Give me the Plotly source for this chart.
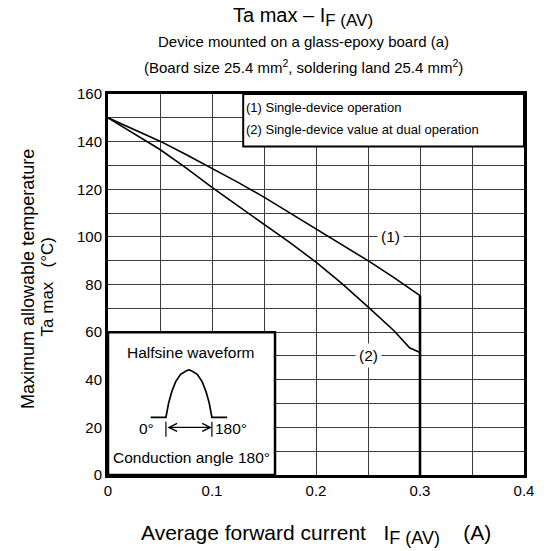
import plotly.graph_objects as go

# ---- data ----
x_single = [0, 0.025, 0.05, 0.075, 0.1, 0.125, 0.15, 0.175, 0.2, 0.225, 0.25, 0.275, 0.3]
ta_single = [150, 145.2, 140.2, 134.6, 128.9, 122.9, 116.7, 110.1, 103.3, 96.7, 90, 82.9, 75.3]
x_dual = [0, 0.025, 0.05, 0.075, 0.1, 0.125, 0.15, 0.175, 0.2, 0.225, 0.25, 0.275, 0.29, 0.3]
ta_dual = [150, 143.5, 136.7, 129, 120.8, 113.0, 105.4, 97.6, 89.4, 80.4, 70.6, 60.6, 53.4, 51.4]
x_limit = [0.3, 0.3]
ta_limit = [75.3, 0]

x_ticks = [0, 0.1, 0.2, 0.3, 0.4]
x_ticklabels = ["0", "0.1", "0.2", "0.3", "0.4"]
y_ticks = [0, 20, 40, 60, 80, 100, 120, 140, 160]

legend_lines = ["(1) Single-device operation", "(2) Single-device value at dual operation"]

# inset halfsine illustration
wave_x = [0.041, 0.0557, 0.0582, 0.0613, 0.0651, 0.0698, 0.0754, 0.0778,
          0.0802, 0.0858, 0.0905, 0.0943, 0.0974, 0.0999, 0.1146]
wave_y = [24.2, 24.2, 30.1, 35, 39.2, 42.3, 43.8, 44.1,
          43.8, 42.3, 39.2, 35, 30.1, 24.2, 24.2]
mark_x = [0.0557, 0.0557, None, 0.0999, 0.0999]
mark_y = [16.1, 22.4, None, 16.1, 22.4]

FONT = "Liberation Sans, Arial, sans-serif"

fig = go.Figure()
fig.add_trace(go.Scatter(x=x_single, y=ta_single, mode="lines",
                         line=dict(color="black", width=1.6), hoverinfo="skip"))
fig.add_trace(go.Scatter(x=x_dual, y=ta_dual, mode="lines",
                         line=dict(color="black", width=1.6), hoverinfo="skip"))
fig.add_trace(go.Scatter(x=x_limit, y=ta_limit, mode="lines",
                         line=dict(color="black", width=2.6), hoverinfo="skip"))
fig.add_trace(go.Scatter(x=wave_x, y=wave_y, mode="lines",
                         line=dict(color="black", width=1.7), hoverinfo="skip"))
fig.add_trace(go.Scatter(x=mark_x, y=mark_y, mode="lines",
                         line=dict(color="black", width=1.2), hoverinfo="skip"))

# legend box and inset box
fig.add_shape(type="rect", xref="x", yref="y", x0=0.13, x1=0.4, y0=138, y1=160,
              fillcolor="white", line=dict(color="black", width=2), layer="between")
fig.add_shape(type="rect", xref="x", yref="y", x0=0, x1=0.1606, y0=0, y1=60,
              fillcolor="white", line=dict(color="black", width=2.5), layer="between")

C = dict(xanchor="center", yanchor="middle", showarrow=False)
ann = []
ann.append(dict(x=0.1312, y=154.2, xref="x", yref="y", text=legend_lines[0],
                showarrow=False, xanchor="left", yanchor="middle", font=dict(size=13)))
ann.append(dict(x=0.1312, y=145.0, xref="x", yref="y", text=legend_lines[1],
                showarrow=False, xanchor="left", yanchor="middle", font=dict(size=13)))
ann.append(dict(x=0.0801, y=51.5, xref="x", yref="y", text="Halfsine waveform",
                font=dict(size=15.5), **C))
ann.append(dict(x=0.0801, y=7.3, xref="x", yref="y", text="Conduction angle 180°",
                font=dict(size=15.5), **C))
ann.append(dict(x=0.0463, y=19.7, xref="x", yref="y", text="0°", xanchor="right",
                yanchor="middle", showarrow=False, font=dict(size=15.5)))
ann.append(dict(x=0.1005, y=19.7, xref="x", yref="y", text="180°", xanchor="left",
                yanchor="middle", showarrow=False, font=dict(size=15.5)))
ann.append(dict(x=0.0999, y=20, ax=0.0557, ay=20, xref="x", yref="y", axref="x", ayref="y",
                text="", showarrow=True, arrowhead=5, arrowside="end+start",
                arrowsize=1.3, arrowwidth=1.2, arrowcolor="black", standoff=0, startstandoff=0))
ann.append(dict(x=0.272, y=100, xref="x", yref="y", text="(1)",
                bgcolor="white", borderpad=3, font=dict(size=15.5), **C))
ann.append(dict(x=0.25, y=50, xref="x", yref="y", text="(2)",
                bgcolor="white", borderpad=3, font=dict(size=15.5), **C))

# title block (paper coords from pixel positions)
def px(xp):
    return (xp - 108) / 426.0

def py(yp):
    return (475 - yp) / 381.0

SUB = '<sub><span style="font-size:{}px">{}</span></sub>'

ann.append(dict(x=px(308), y=py(17), xref="paper", yref="paper",
                text="Ta max – I" + SUB.format(17, "F (AV)"), font=dict(size=20), **C))
ann.append(dict(x=px(308), y=py(42), xref="paper", yref="paper",
                text="Device mounted on a glass-epoxy board (a)", font=dict(size=15), **C))
ann.append(dict(x=px(308), y=py(66), xref="paper", yref="paper",
                text="(Board size 25.4 mm<sup>2</sup>, soldering land 25.4 mm<sup>2</sup>)",
                font=dict(size=15), **C))
ann.append(dict(x=px(321), y=py(534), xref="paper", yref="paper",
                text="Average forward current\u00a0\u00a0\u00a0I" + SUB.format(18, "F (AV)")
                     + "\u00a0\u00a0\u00a0\u00a0(A)",
                font=dict(size=21), **C))
ann.append(dict(x=px(26), y=py(279), xref="paper", yref="paper", textangle=-90,
                text="Maximum allowable temperature", font=dict(size=18), **C))
ann.append(dict(x=px(46), y=py(287), xref="paper", yref="paper", textangle=-90,
                text="Ta max\u00a0\u00a0\u00a0(°C)", font=dict(size=17), **C))

fig.update_layout(
    width=546, height=551,
    margin=dict(l=108, r=12, t=94, b=76),
    paper_bgcolor="white", plot_bgcolor="white",
    showlegend=False,
    font=dict(family=FONT, color="black", size=15),
    annotations=ann,
    xaxis=dict(range=[0, 0.4], tickvals=x_ticks, ticktext=x_ticklabels,
               showgrid=True, gridcolor="#3c3c3c", gridwidth=1,
               minor=dict(dtick=0.05, showgrid=True, gridcolor="#3c3c3c", gridwidth=1),
               showline=True, linecolor="black", linewidth=3, mirror=True,
               ticks="", zeroline=False, tickfont=dict(size=15)),
    yaxis=dict(range=[0, 160], tickvals=y_ticks,
               showgrid=True, gridcolor="#3c3c3c", gridwidth=1,
               minor=dict(dtick=10, showgrid=True, gridcolor="#3c3c3c", gridwidth=1),
               showline=True, linecolor="black", linewidth=3, mirror=True,
               ticks="", zeroline=False, tickfont=dict(size=15)),
)

fig.write_html(
    "out.html", config={"displayModeBar": False},
    post_script=("document.body.style.margin='0px';"
                 "document.body.style.overflow='hidden';"
                 "document.documentElement.style.overflow='hidden';"))
